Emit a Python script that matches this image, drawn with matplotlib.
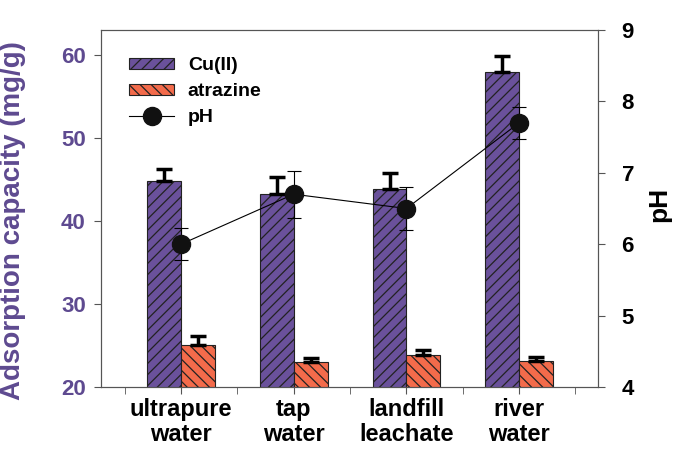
import numpy as np
import matplotlib
matplotlib.use("Agg")
import matplotlib.pyplot as plt
from matplotlib.ticker import FixedLocator

plt.rcParams['font.family'] = ['Liberation Sans', 'DejaVu Sans']
plt.rcParams['font.weight'] = 'bold'
plt.rcParams['hatch.linewidth'] = 0.9

# data
waters = ['ultrapure\nwater', 'tap\nwater', 'landfill\nleachate', 'river\nwater']
cu = [44.8, 43.2, 43.9, 58.0]
cu_err = [1.4, 2.1, 1.9, 1.9]
atrazine = [25.0, 23.0, 23.8, 23.1]
atrazine_err = [1.1, 0.5, 0.7, 0.5]
ph = [6.0, 6.7, 6.5, 7.7]
ph_err = [0.22, 0.33, 0.3, 0.22]

purple = '#6a519b'
orange = '#f36b4b'
label_purple = '#5e4a90'

x = np.arange(len(waters))
w = 0.3

fig = plt.figure(figsize=(6.75, 4.51), dpi=100)
ax = fig.add_axes([101/675, 1 - 387/451, 497/675, 357/451])

b1 = ax.bar(x - w/2, cu, w, color=purple, edgecolor='#222222', linewidth=0.8,
            hatch='///', label='Cu(II)')
b2 = ax.bar(x + w/2, atrazine, w, color=orange, edgecolor='#222222', linewidth=0.8,
            hatch='\\\\\\', label='atrazine')
ax.errorbar(x - w/2, cu, yerr=[np.zeros(4), cu_err], fmt='none', ecolor='black',
            elinewidth=2.5, capsize=6, capthick=2.5)
ax.errorbar(x + w/2, atrazine, yerr=[np.zeros(4), atrazine_err], fmt='none',
            ecolor='black', elinewidth=2.5, capsize=6, capthick=2.5)

ax.set_xlim(-0.71, 3.70)
ax.set_ylim(20, 63)
ax.set_yticks([20, 30, 40, 50, 60])
ax.set_xticks(x)
ax.set_xticklabels(waters, fontsize=17, fontweight='bold', linespacing=1.1)
ax.xaxis.set_minor_locator(FixedLocator(np.arange(-0.5, 4, 1)))
ax.tick_params(axis='x', which='both', length=5, color='#555555', pad=3)
ax.tick_params(axis='y', length=5, color='#555555', labelsize=16,
               labelcolor=label_purple, pad=6)
for t in ax.get_yticklabels():
    t.set_fontweight('bold')
ax.set_ylabel('Adsorption capacity (mg/g)', fontsize=20, fontweight='bold',
              color=label_purple)
ax.yaxis.set_label_coords(-0.15, 0.465)
for s in ax.spines.values():
    s.set_color('#555555')

ax2 = ax.twinx()
ax2.errorbar(x, ph, yerr=ph_err, fmt='none', ecolor='black', elinewidth=0.8,
             capsize=5, capthick=0.8)
l1, = ax2.plot(x, ph, color='black', linewidth=0.8, marker='o', markersize=13,
               markerfacecolor='#111111', markeredgecolor='#111111', label='pH')
ax2.set_ylim(4, 9)
ax2.set_yticks([4, 5, 6, 7, 8, 9])
ax2.tick_params(axis='y', length=5, color='#555555', labelsize=16, pad=12)
for t in ax2.get_yticklabels():
    t.set_fontweight('bold')
ax2.set_ylabel('pH', fontsize=19, fontweight='bold', rotation=90)
ax2.yaxis.set_label_coords(1.10, 0.51)
for s in ax2.spines.values():
    s.set_color('#555555')

ax2.legend([b1, b2, l1], ['Cu(II)', 'atrazine', 'pH'], loc='upper left',
           bbox_to_anchor=(0.022, 0.972), frameon=False, fontsize=14,
           handlelength=2.3, handleheight=0.5, labelspacing=0.45,
           handletextpad=0.7)

fig.savefig('out.png', dpi=100)
